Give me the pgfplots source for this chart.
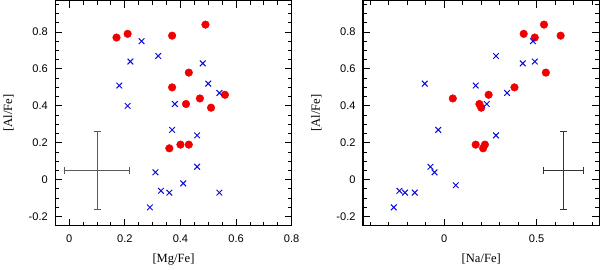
\documentclass[border=0pt]{standalone}
\usepackage{fontspec}
\setmainfont{Liberation Sans}
\newfontfamily\seriffont{Liberation Serif}
\usepackage{pgfplots}
\pgfplotsset{compat=1.18}
\definecolor{myred}{RGB}{240,0,0}
\definecolor{myblue}{RGB}{10,10,220}
\definecolor{errgray}{RGB}{90,90,90}
\pgfplotsset{
  base/.style={scale only axis, width=235pt, height=224pt, ymin=-0.25, ymax=0.97,
    tick align=inside, xtick pos=both, ytick pos=both, clip=false, axis line style={line width=1.2pt}},
  redpts/.style={only marks, mark=*, mark size=3.8pt, color=myred, mark options={fill=myred, draw=myred}},
  bluepts/.style={only marks, mark=x, mark size=4pt, color=myblue, mark options={line width=1pt}},
}
\begin{document}
\begin{tikzpicture}
% Left panel
\begin{axis}[base, at={(57pt,41pt)},
  major tick length=7pt, minor tick length=4pt, tick style={black, line width=0.9pt},
  minor y tick num=3, minor x tick num=3,
  xmin=-0.05, xmax=0.8, xtick distance=0.2, ytick distance=0.2,
  /pgf/number format/assume math mode=true,
  /pgf/number format/fixed,
  tick label style={font=\fontsize{11}{12}\selectfont},
  xticklabel style={yshift=-5pt},
  yticklabel style={xshift=-4pt},
  xlabel={[Mg/Fe]}, ylabel={[Al/Fe]},
  label style={font=\seriffont\fontsize{12.5}{14}\selectfont},
  ylabel style={yshift=8pt},
  xlabel style={yshift=-5pt}]
\addplot[redpts] coordinates {
(0.17,0.77) (0.21,0.79) (0.37,0.78) (0.49,0.84) (0.43,0.58) (0.37,0.50)
(0.47,0.44) (0.42,0.41) (0.51,0.39) (0.56,0.46) (0.36,0.17) (0.40,0.19) (0.43,0.19)};
\addplot[bluepts] coordinates {
(0.26,0.75) (0.32,0.67) (0.22,0.64) (0.48,0.63) (0.18,0.51) (0.50,0.52)
(0.54,0.47) (0.21,0.40) (0.38,0.41) (0.37,0.27) (0.46,0.24) (0.46,0.07)
(0.31,0.04) (0.41,-0.02) (0.33,-0.06) (0.36,-0.07) (0.54,-0.07) (0.29,-0.15)};
\addplot[errgray, only marks, mark=*, mark size=0pt,
  error bars/.cd, x dir=both, x explicit, y dir=both, y explicit,
  error bar style={line width=1pt, errgray},
  error mark options={rotate=90, mark size=3.5pt, line width=1pt, errgray}]
  coordinates {(0.1,0.05) +- (0.118,0.21)};
\end{axis}
% Right panel
\begin{axis}[base, at={(363pt,41pt)},
  major tick length=7pt, minor tick length=4pt, tick style={black, line width=0.9pt},
  minor y tick num=3, minor x tick num=4,
  xmin=-0.44, xmax=0.84, xtick distance=0.5, ytick distance=0.2,
  /pgf/number format/assume math mode=true,
  /pgf/number format/fixed,
  tick label style={font=\fontsize{11}{12}\selectfont},
  xticklabel style={yshift=-5pt},
  yticklabel style={xshift=-4pt},
  xlabel={[Na/Fe]}, ylabel={[Al/Fe]},
  label style={font=\seriffont\fontsize{12.5}{14}\selectfont},
  ylabel style={yshift=8pt},
  xlabel style={yshift=-5pt}]
\addplot[redpts] coordinates {
(0.43,0.79) (0.49,0.77) (0.54,0.84) (0.63,0.78) (0.55,0.58) (0.38,0.50)
(0.24,0.46) (0.046,0.44) (0.19,0.41) (0.20,0.39) (0.17,0.19) (0.21,0.17) (0.22,0.19)};
\addplot[bluepts] coordinates {
(-0.106,0.52) (-0.033,0.27) (0.17,0.51) (0.28,0.67) (0.23,0.41) (0.34,0.47)
(0.425,0.63) (0.48,0.75) (0.49,0.64) (0.28,0.24) (-0.075,0.07) (-0.053,0.04)
(0.062,-0.03) (-0.243,-0.06) (-0.213,-0.07) (-0.16,-0.07) (-0.274,-0.15)};
\addplot[black!80, only marks, mark=*, mark size=0pt,
  error bars/.cd, x dir=both, x explicit, y dir=both, y explicit,
  error bar style={line width=1pt, black!80},
  error mark options={rotate=90, mark size=3.5pt, line width=1pt, black!80}]
  coordinates {(0.645,0.05) +- (0.11,0.21)};
\end{axis}
\end{tikzpicture}
\end{document}
